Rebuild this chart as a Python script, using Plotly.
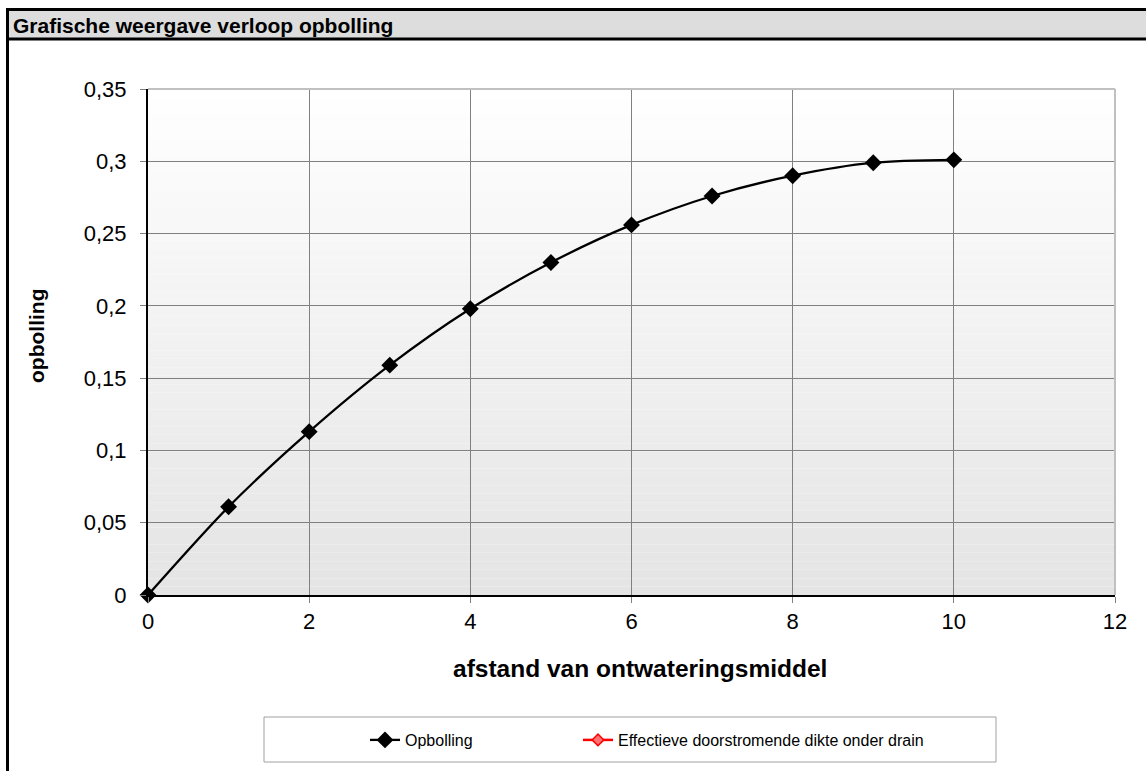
import plotly.graph_objects as go

# ---- data ----
afstand = [0, 1, 2, 3, 4, 5, 6, 7, 8, 9, 10]
opbolling = [0.0, 0.061, 0.113, 0.159, 0.198, 0.230, 0.256, 0.276, 0.290, 0.299, 0.301]
effectief_x = [None]
effectief_y = [None]

x_ticks = [0, 2, 4, 6, 8, 10, 12]
y_ticks = [0, 0.05, 0.1, 0.15, 0.2, 0.25, 0.3, 0.35]

W, H = 1146, 771
L, R, T, B = 148, 1115, 89, 595  # plot area in pixels


def px(xp):
    return (xp - L) / (R - L)


def py(yp):
    return (B - yp) / (B - T)


fig = go.Figure()
fig.add_trace(go.Scatter(
    x=afstand, y=opbolling, name="Opbolling", mode="lines+markers",
    line=dict(color="black", width=2.3, shape="spline", smoothing=0.8),
    marker=dict(symbol="diamond", size=13, color="black"),
    cliponaxis=False, legend="legend",
))
fig.add_trace(go.Scatter(
    x=effectief_x, y=effectief_y, name="Effectieve doorstromende dikte onder drain",
    mode="lines+markers",
    line=dict(color="red", width=2.5),
    marker=dict(symbol="diamond", size=9, color="#ff7070", line=dict(color="red", width=1.5)),
    legend="legend2",
))

shapes = []
# gradient plot background
n = 60
for i in range(n):
    g = int(round(255 - (255 - 228) * (1 - (i + 0.5) / n)))
    col = f"rgb({g},{g},{g})"
    shapes.append(dict(type="rect", xref="paper", yref="paper", x0=0, x1=1,
                       y0=i / n, y1=(i + 1) / n, fillcolor=col, line=dict(width=0),
                       layer="below"))
# top/right plot border (gray)
shapes.append(dict(type="line", xref="paper", yref="paper", x0=0, x1=1, y0=1, y1=1,
                   line=dict(color="#c0c0c0", width=2), layer="above"))
shapes.append(dict(type="line", xref="paper", yref="paper", x0=1, x1=1, y0=0, y1=1,
                   line=dict(color="#c0c0c0", width=2), layer="above"))
# title bar
shapes.append(dict(type="rect", xref="paper", yref="paper", x0=px(7.5), x1=px(1160),
                   y0=py(39), y1=py(9.5), fillcolor="#dddddd",
                   line=dict(color="black", width=3), layer="above"))
# left frame line
shapes.append(dict(type="line", xref="paper", yref="paper", x0=px(7.5), x1=px(7.5),
                   y0=py(780), y1=py(9), line=dict(color="black", width=3), layer="above"))
# legend box
shapes.append(dict(type="rect", xref="paper", yref="paper", x0=px(264), x1=px(996),
                   y0=py(762), y1=py(717), fillcolor="white",
                   line=dict(color="#a0a0a0", width=1), layer="above"))

FONT = "Liberation Sans, Arial"
annotations = [
    dict(text="<b>Grafische weergave verloop opbolling</b>", xref="paper", yref="paper",
         x=px(11), y=py(25), xanchor="left", yanchor="middle", showarrow=False,
         font=dict(size=21, color="black", family=FONT)),
    dict(text="<b>afstand van ontwateringsmiddel</b>", xref="paper", yref="paper",
         x=px(640), y=py(668), xanchor="center", yanchor="middle", showarrow=False,
         font=dict(size=24.5, color="black", family=FONT)),
    dict(text="<b>opbolling</b>", xref="paper", yref="paper", textangle=-90,
         x=px(36), y=py(336), xanchor="center", yanchor="middle", showarrow=False,
         font=dict(size=21, color="black", family=FONT)),
]

legend_common = dict(orientation="h", yanchor="middle", xanchor="left",
                     bgcolor="rgba(0,0,0,0)", borderwidth=0,
                     font=dict(size=16, family=FONT), itemwidth=30)

fig.update_layout(
    width=W, height=H,
    margin=dict(l=L, r=W - R, t=T, b=H - B, pad=0),
    paper_bgcolor="white", plot_bgcolor="white",
    separators=",.",
    font=dict(family=FONT, color="black", size=22),
    shapes=shapes, annotations=annotations,
    showlegend=True,
    legend=dict(x=px(365), y=py(740), **legend_common),
    legend2=dict(x=px(578), y=py(740), **legend_common),
)
fig.update_xaxes(range=[0, 12], tickvals=x_ticks, showgrid=True, gridcolor="#808080",
                 gridwidth=1, showline=True, linecolor="black", linewidth=2,
                 ticks="outside", ticklen=6, tickcolor="#808080", zeroline=False,
                 ticklabelstandoff=0, tickfont=dict(size=22))
fig.update_yaxes(range=[0, 0.35], tickvals=y_ticks, showgrid=True, gridcolor="#808080",
                 gridwidth=1, showline=True, linecolor="black", linewidth=2,
                 ticks="outside", ticklen=6, tickcolor="#808080", zeroline=False,
                 ticklabelstandoff=9, tickfont=dict(size=22))

fig.write_html("out.html", config={"displayModeBar": False},
               post_script="document.body.style.margin='0';")
